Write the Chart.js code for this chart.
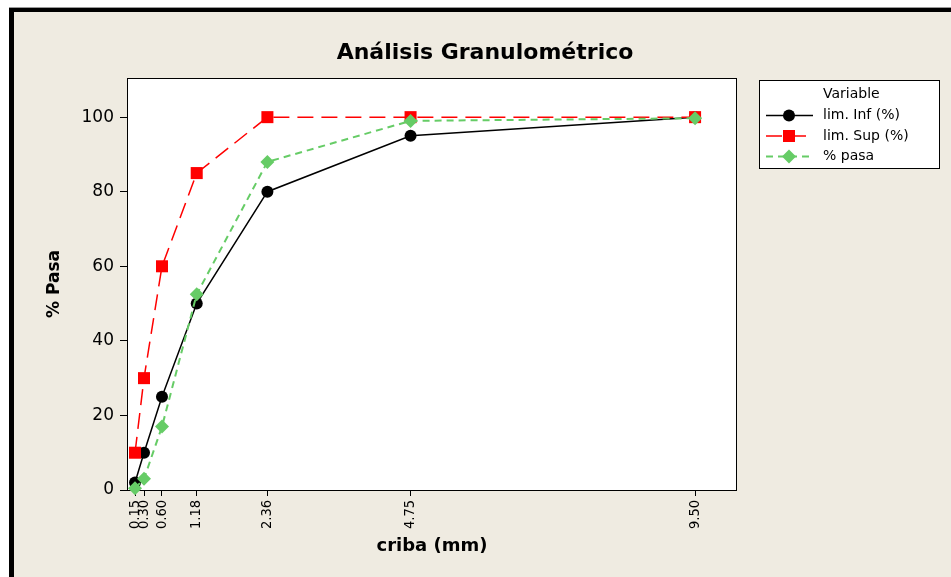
<!DOCTYPE html>
<html>
<head>
<meta charset="utf-8">
<script src="https://cdn.jsdelivr.net/npm/chart.js@4"></script>
<style>
  html, body { margin: 0; padding: 0; background: #fff; }
  #wrap { position: relative; width: 951px; height: 577px; overflow: hidden; }
  #frame {
    position: absolute; left: 9px; top: 8px; right: 0; bottom: 0;
    background: #efebe1;
    border-top: 4px solid #000; border-left: 5px solid #000;
    box-shadow: 0 -1px 0 #9a9a9a;
  }
  #chart { position: absolute; left: 0; top: 0; }
</style>
</head>
<body>
<div id="wrap">
  <div id="frame"></div>
  <canvas id="chart" width="951" height="577"></canvas>
</div>
<script>
// tamaño de criba (mm) y % que pasa
const sizes = [0.15, 0.30, 0.60, 1.18, 2.36, 4.75, 9.50];
const limInf = [2, 10, 25, 50, 80, 95, 100];
const limSup = [10, 30, 60, 85, 100, 100, 100];
const pasa = [0.5, 3, 17, 52.5, 88, 99, 99.7];
const yTicks = [0, 20, 40, 60, 80, 100];
const seriesNames = ['lim. Inf (%)', 'lim. Sup (%)', '% pasa'];

function pts(vals) {
  return sizes.map((s, i) => ({ x: s, y: vals[i] }));
}

// fondo blanco del área, marco, título y leyenda
const decor = {
  id: 'decor',
  beforeDraw(chart) {
    const { ctx, chartArea: a } = chart;
    ctx.save();
    ctx.fillStyle = '#fff';
    ctx.fillRect(a.left, a.top, a.right - a.left, a.bottom - a.top);
    ctx.restore();
  },
  beforeDatasetsDraw(chart) {
    const { ctx, chartArea: a } = chart;
    ctx.save();
    ctx.strokeStyle = '#000';
    ctx.lineWidth = 1;
    ctx.strokeRect(Math.round(a.left) + 0.5, Math.round(a.top) + 0.5,
      Math.round(a.right - a.left) - 1, Math.round(a.bottom - a.top));
    ctx.restore();
  },
  afterDraw(chart) {
    const ctx = chart.ctx;
    ctx.save();
    // título
    ctx.fillStyle = '#000';
    ctx.font = 'bold 22px "DejaVu Sans"';
    ctx.textAlign = 'center';
    ctx.textBaseline = 'middle';
    ctx.fillText('Análisis Granulométrico', 485, 53);

    // leyenda
    ctx.fillStyle = '#fff';
    ctx.fillRect(759, 80, 181, 89);
    ctx.strokeStyle = '#000';
    ctx.lineWidth = 1;
    ctx.strokeRect(759.5, 80.5, 180, 88);
    ctx.fillStyle = '#000';
    ctx.font = '14px "DejaVu Sans"';
    ctx.textAlign = 'left';
    ctx.fillText('Variable', 823, 94);
    chart.data.datasets.forEach((ds, i) => {
      const y = 115.5 + i * 20.5;
      ctx.save();
      ctx.strokeStyle = ds.borderColor;
      ctx.lineWidth = ds.borderWidth;
      ctx.setLineDash(ds.borderDash || []);
      ctx.beginPath();
      ctx.moveTo(766, y);
      ctx.lineTo(813, y);
      ctx.stroke();
      ctx.setLineDash([]);
      ctx.fillStyle = ds.pointBackgroundColor;
      ctx.strokeStyle = ds.pointBackgroundColor;
      Chart.helpers.drawPoint(ctx, {
        pointStyle: ds.pointStyle, radius: ds.pointRadius, rotation: 0, borderWidth: 0
      }, 789, y);
      ctx.restore();
      ctx.fillStyle = '#000';
      ctx.fillText(seriesNames[i], 823, y);
    });
    ctx.restore();
  }
};

const ctx = document.getElementById('chart').getContext('2d');
new Chart(ctx, {
  type: 'scatter',
  data: {
    datasets: [
      {
        label: seriesNames[0],
        data: pts(limInf),
        showLine: true,
        borderColor: '#000',
        borderWidth: 1.5,
        pointStyle: 'circle',
        pointRadius: 6,
        pointBackgroundColor: '#000',
        pointBorderWidth: 0,
        order: 2
      },
      {
        label: seriesNames[1],
        data: pts(limSup),
        showLine: true,
        borderColor: '#ff0000',
        borderWidth: 1.5,
        borderDash: [16, 8],
        pointStyle: 'rect',
        pointRadius: 8.5,
        pointBackgroundColor: '#ff0000',
        pointBorderWidth: 0,
        order: 1
      },
      {
        label: seriesNames[2],
        data: pts(pasa),
        showLine: true,
        borderColor: '#66cc66',
        borderWidth: 2,
        borderDash: [7, 5],
        pointStyle: 'rectRot',
        pointRadius: 7,
        pointBackgroundColor: '#66cc66',
        pointBorderWidth: 0,
        order: 0
      }
    ]
  },
  options: {
    responsive: false,
    animation: false,
    clip: false,
    layout: { padding: { top: 78, right: 214, left: 0, bottom: 0 } },
    plugins: {
      legend: { display: false },
      title: { display: false },
      tooltip: { enabled: false }
    },
    scales: {
      x: {
        type: 'linear',
        min: 0.016,
        max: 10.2,
        afterBuildTicks: (scale) => { scale.ticks = sizes.map(v => ({ value: v })); },
        afterFit: (scale) => { scale.height = 87; },
        border: { display: false },
        grid: { display: true, drawOnChartArea: false, drawTicks: true, tickLength: 6, tickColor: '#000', tickWidth: 1 },
        ticks: {
          autoSkip: false,
          minRotation: 90,
          maxRotation: 90,
          padding: 4,
          color: '#000',
          font: { family: '"DejaVu Sans Condensed", "DejaVu Sans"', size: 14.5 },
          callback: (v) => Number(v).toFixed(2)
        },
        title: {
          display: true,
          text: 'criba (mm)',
          color: '#000',
          font: { family: '"DejaVu Sans"', size: 18, weight: 'bold' },
          padding: { top: 0, bottom: 20 }
        }
      },
      y: {
        type: 'linear',
        min: 0,
        max: 110.5,
        afterBuildTicks: (scale) => { scale.ticks = yTicks.map(v => ({ value: v })); },
        afterFit: (scale) => { scale.width = 127; },
        border: { display: false },
        grid: { display: true, drawOnChartArea: false, drawTicks: true, tickLength: 7, tickColor: '#000', tickWidth: 1 },
        ticks: {
          padding: 6,
          color: '#000',
          font: { family: '"DejaVu Sans"', size: 17 }
        },
        title: {
          display: true,
          text: '% Pasa',
          color: '#000',
          font: { family: '"DejaVu Sans"', size: 17, weight: 'bold' },
          padding: { top: 44, bottom: 0 }
        }
      }
    }
  },
  plugins: [decor]
});
</script>
</body>
</html>
